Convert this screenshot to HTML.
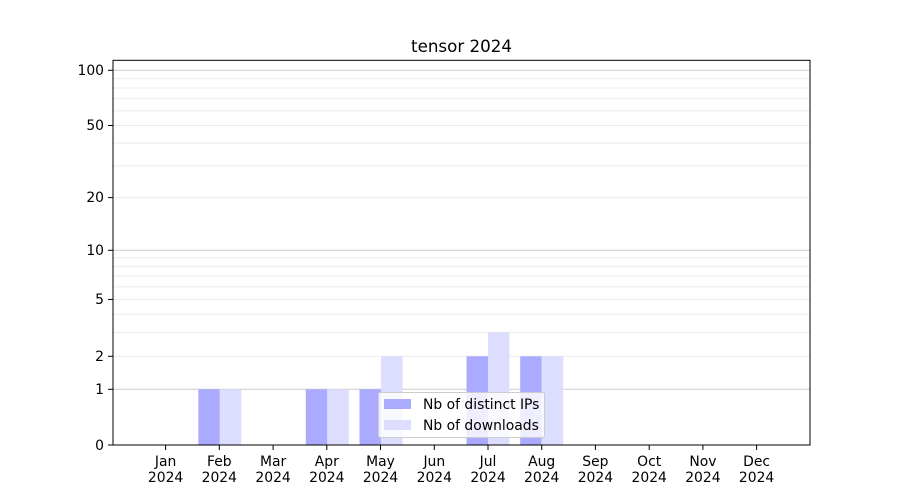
<!DOCTYPE html>
<html><head><meta charset="utf-8"><style>body{margin:0;background:#fff}svg{display:block}text{font-family:"DejaVu Sans","Liberation Sans",sans-serif;fill:#000}</style></head>
<body>
<svg width="900" height="500" viewBox="0 0 900 500" xmlns="http://www.w3.org/2000/svg">
<rect width="900" height="500" fill="#fff"/>
<g stroke="#ebebeb" stroke-width="1">
<line x1="113" x2="810" y1="356.3" y2="356.3"/>
<line x1="113" x2="810" y1="332.4" y2="332.4"/>
<line x1="113" x2="810" y1="314.2" y2="314.2"/>
<line x1="113" x2="810" y1="299.4" y2="299.4"/>
<line x1="113" x2="810" y1="286.9" y2="286.9"/>
<line x1="113" x2="810" y1="276.0" y2="276.0"/>
<line x1="113" x2="810" y1="266.4" y2="266.4"/>
<line x1="113" x2="810" y1="257.9" y2="257.9"/>
<line x1="113" x2="810" y1="197.6" y2="197.6"/>
<line x1="113" x2="810" y1="165.9" y2="165.9"/>
<line x1="113" x2="810" y1="143.1" y2="143.1"/>
<line x1="113" x2="810" y1="125.5" y2="125.5"/>
<line x1="113" x2="810" y1="110.9" y2="110.9"/>
<line x1="113" x2="810" y1="98.6" y2="98.6"/>
<line x1="113" x2="810" y1="88.0" y2="88.0"/>
<line x1="113" x2="810" y1="78.6" y2="78.6"/>
</g>
<g stroke="#cccccc" stroke-width="1">
<line x1="113" x2="810" y1="389.3" y2="389.3"/>
<line x1="113" x2="810" y1="250.3" y2="250.3"/>
<line x1="113" x2="810" y1="70.3" y2="70.3"/>
</g>
<g>
<rect x="198.3" y="389.3" width="21.5" height="55.7" fill="#aaaaff"/>
<rect x="219.8" y="389.3" width="21.5" height="55.7" fill="#ddddff"/>
<rect x="305.8" y="389.3" width="21.5" height="55.7" fill="#aaaaff"/>
<rect x="327.3" y="389.3" width="21.5" height="55.7" fill="#ddddff"/>
<rect x="359.5" y="389.3" width="21.5" height="55.7" fill="#aaaaff"/>
<rect x="381.0" y="356.3" width="21.5" height="88.7" fill="#ddddff"/>
<rect x="466.5" y="356.3" width="21.5" height="88.7" fill="#aaaaff"/>
<rect x="488.0" y="332.4" width="21.5" height="112.6" fill="#ddddff"/>
<rect x="520.2" y="356.3" width="21.5" height="88.7" fill="#aaaaff"/>
<rect x="541.7" y="356.3" width="21.5" height="88.7" fill="#ddddff"/>
</g>
<rect x="113" y="60.3" width="697" height="384.7" fill="none" stroke="#000" stroke-width="1"/>
<g stroke="#000" stroke-width="1">
<line x1="108" x2="113" y1="445" y2="445"/><line x1="108" x2="113" y1="389.3" y2="389.3"/>
<line x1="108" x2="113" y1="356.3" y2="356.3"/><line x1="108" x2="113" y1="299.4" y2="299.4"/>
<line x1="108" x2="113" y1="250.3" y2="250.3"/><line x1="108" x2="113" y1="197.6" y2="197.6"/>
<line x1="108" x2="113" y1="125.5" y2="125.5"/><line x1="108" x2="113" y1="70.3" y2="70.3"/>
</g>
<g font-size="13.9" text-anchor="end">
<text x="104" y="450">0</text><text x="104" y="394">1</text><text x="104" y="361">2</text>
<text x="104" y="304">5</text><text x="104" y="255">10</text><text x="104" y="202">20</text>
<text x="104" y="130">50</text><text x="104" y="75">100</text>
</g>
<g stroke="#000" stroke-width="1">
<line x1="165.6" x2="165.6" y1="445" y2="450"/><line x1="219.3" x2="219.3" y1="445" y2="450"/>
<line x1="273.1" x2="273.1" y1="445" y2="450"/><line x1="326.8" x2="326.8" y1="445" y2="450"/>
<line x1="380.5" x2="380.5" y1="445" y2="450"/><line x1="434.3" x2="434.3" y1="445" y2="450"/>
<line x1="488.0" x2="488.0" y1="445" y2="450"/><line x1="541.7" x2="541.7" y1="445" y2="450"/>
<line x1="595.4" x2="595.4" y1="445" y2="450"/><line x1="649.2" x2="649.2" y1="445" y2="450"/>
<line x1="702.9" x2="702.9" y1="445" y2="450"/><line x1="756.6" x2="756.6" y1="445" y2="450"/>
</g>
<g font-size="13.9" text-anchor="middle">
<text x="165.6" y="466">Jan</text><text x="165.6" y="482">2024</text>
<text x="219.3" y="466">Feb</text><text x="219.3" y="482">2024</text>
<text x="273.1" y="466">Mar</text><text x="273.1" y="482">2024</text>
<text x="326.8" y="466">Apr</text><text x="326.8" y="482">2024</text>
<text x="380.5" y="466">May</text><text x="380.5" y="482">2024</text>
<text x="434.3" y="466">Jun</text><text x="434.3" y="482">2024</text>
<text x="488.0" y="466">Jul</text><text x="488.0" y="482">2024</text>
<text x="541.7" y="466">Aug</text><text x="541.7" y="482">2024</text>
<text x="595.4" y="466">Sep</text><text x="595.4" y="482">2024</text>
<text x="649.2" y="466">Oct</text><text x="649.2" y="482">2024</text>
<text x="702.9" y="466">Nov</text><text x="702.9" y="482">2024</text>
<text x="756.6" y="466">Dec</text><text x="756.6" y="482">2024</text>
</g>
<text x="461.5" y="52" font-size="16.7" text-anchor="middle">tensor 2024</text>
<rect x="378.5" y="392.5" width="166" height="45" rx="2" fill="#fff" fill-opacity="0.8" stroke="#cccccc" stroke-width="1"/>
<rect x="384" y="399" width="27" height="10" fill="#aaaaff"/>
<rect x="384" y="420" width="27" height="10" fill="#ddddff"/>
<text x="423" y="409" font-size="13.9">Nb of distinct IPs</text>
<text x="423" y="430" font-size="13.9">Nb of downloads</text>
</svg>
</body></html>
